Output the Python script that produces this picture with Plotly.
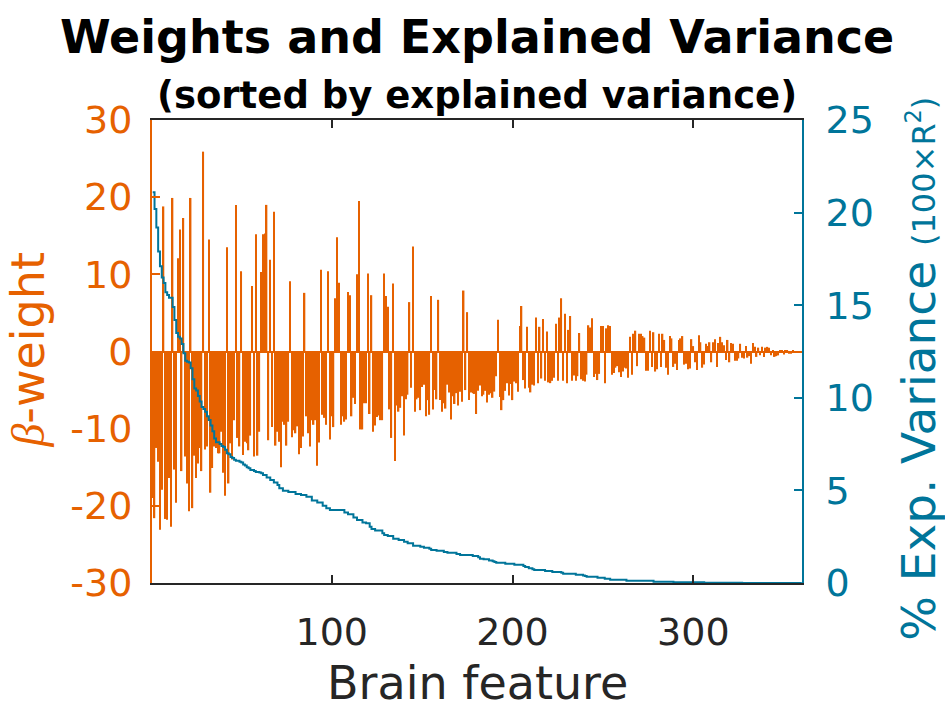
import plotly.graph_objects as go

# ---------------- data ----------------
features = list(range(1, 361))

beta_weights = [
    -19.0, -21.6, -12.5, -14.3, -23.1, -17.9, 18.8, -21.7, -21.8, -16.4,
    -22.7, 19.9, -15.3, -19.6, 12.1, 15.8, -15.5, 17.3, -13.6, -17.1,
    -20.7, 19.9, -20.3, -13.5, -16.4, -14.5, -12.5, -15.5, 25.9, -12.7,
    -12.3, 14.5, -18.3, -15.1, -12.3, -12.5, -13.2, -13.2, -10.4, -15.7,
    -18.7, 13.5, -17.1, -11.9, -14.0, -8.9, 19.0, -11.2, -12.3, 10.4,
    -13.4, -11.7, -11.9, -12.8, -10.9, 8.5, -13.6, 15.2, -13.5, -10.4,
    10.3, 15.2, 15.3, 19.0, -11.5, 11.9, -9.8, 18.1, -12.2, -10.4,
    -11.7, -15.0, -9.1, -9.5, -12.2, -9.1, 9.1, -11.1, -10.2, -10.6,
    -9.7, -13.3, -12.5, -11.0, 7.6, -8.4, -10.6, -12.3, -8.9, -9.5,
    -8.9, -14.8, -11.8, 10.6, -8.2, -8.6, -9.5, 10.4, -11.4, -8.4,
    -9.8, 6.9, 14.8, 8.9, -9.5, -8.4, -9.1, -8.8, 7.7, 7.3,
    -8.4, -6.0, -6.8, 10.0, 19.5, -10.1, -10.1, -6.7, -6.7, 10.1,
    -8.1, 7.3, -10.4, -9.6, -8.5, -8.3, -8.9, -8.9, 10.1, 7.2,
    5.8, -7.5, -11.2, 8.8, -14.2, -7.0, -7.8, -7.3, -5.8, -10.9,
    -6.2, -5.6, 6.4, -4.7, 13.6, -7.8, -6.2, -6.0, -7.6, -4.6,
    -4.3, -8.4, -6.3, -8.2, 7.2, -7.5, -5.0, -6.2, 6.7, -6.3,
    -7.8, -6.7, -7.4, -4.3, -5.3, -8.8, -5.8, -6.8, -5.4, -7.0,
    -5.2, -6.5, 7.9, -5.0, 5.1, -6.3, -5.3, -5.4, -5.5, -8.1,
    -5.1, -4.4, -5.8, -5.6, -5.1, -6.6, -5.6, -5.4, -6.0, -5.2,
    -3.2, 4.1, -5.9, -7.6, -6.3, -5.1, -4.1, -5.7, -4.2, -6.3,
    -3.9, -4.1, -5.2, 3.3, 5.9, -3.7, -4.8, 3.2, -4.7, -5.3,
    -4.3, -4.4, 4.4, -4.1, 3.2, -3.5, 4.2, -3.8, 2.6, -4.0,
    -4.1, -3.8, -3.4, 3.6, -3.8, 4.4, 6.9, -3.8, 4.9, -4.1,
    2.8, 4.6, -3.8, -3.1, -3.8, -3.2, 2.4, -3.6, -3.8, -3.9,
    -3.0, 3.4, 3.1, 4.3, -3.3, -2.9, -3.7, -2.9, 3.3, 3.3,
    -4.1, 3.0, 3.4, 3.3, -3.0, -2.8, -2.1, -1.9, -2.7, -3.3,
    -2.6, -2.1, -2.2, -3.4, 1.9, -3.0, 2.3, 2.7, -1.9, 2.3,
    2.3, 2.0, 1.8, -2.5, -2.5, 2.7, -2.0, 2.5, -2.6, -2.3,
    2.3, -2.0, 2.3, 1.5, -2.1, -3.0, 2.0, 1.7, -2.0, -1.6,
    -2.4, 1.5, 1.7, 2.0, -1.7, -1.6, -2.3, -2.2, 1.6, 0.7,
    -1.4, -2.4, 2.1, 1.2, -2.1, -1.7, 1.0, 0.7, 1.2, -1.4,
    1.2, 1.6, -2.0, 1.1, 1.9, 1.2, 0.8, -1.1, 1.5, -1.4,
    1.1, 1.0, -1.2, -1.2, -0.9, 1.0, -0.8, -0.9, 0.7, -0.8,
    -0.6, -1.6, 1.1, 0.6, -0.7, 0.5, -0.5, 0.6, -0.7, 0.5,
    0.6, 0.5, -0.5, 0.2, -0.7, -0.6, -0.5, 0.2, 0.2, -0.4,
    0.1, 0.1, -0.3, -0.3, 0.1, -0.1, 0.05, -0.05, 0.03, -0.02,
]

exp_variance = [
    21.1, 20.2, 19.2, 17.9, 17.1, 16.5, 16.2, 15.7, 15.55, 15.4,
    15.4, 14.9, 14.2, 13.5, 13.3, 13.2, 12.9, 12.4, 12.0, 11.95,
    11.9, 11.6, 11.0, 10.5, 10.4, 10.1, 9.8, 9.5, 9.4, 9.25,
    9.0, 8.8, 8.5, 8.2, 7.8, 7.6, 7.6, 7.5, 7.4, 7.35,
    7.2, 7.0, 6.95, 6.8, 6.75, 6.65, 6.6, 6.6, 6.55, 6.5,
    6.4, 6.35, 6.25, 6.2, 6.1, 6.1, 6.05, 6.0, 6.0, 5.96,
    5.92, 5.83, 5.83, 5.69, 5.69, 5.56, 5.56, 5.42, 5.42, 5.29,
    5.11, 5.11, 4.98, 4.98, 4.98, 4.91, 4.91, 4.91, 4.91, 4.81,
    4.81, 4.81, 4.75, 4.75, 4.75, 4.66, 4.66, 4.66, 4.45, 4.45,
    4.45, 4.34, 4.34, 4.34, 4.17, 4.17, 4.03, 4.03, 3.94, 3.94,
    3.94, 3.94, 3.94, 3.94, 3.94, 3.94, 3.8, 3.8, 3.71, 3.71,
    3.71, 3.53, 3.53, 3.4, 3.4, 3.4, 3.26, 3.26, 3.22, 3.22,
    3.04, 2.92, 2.92, 2.83, 2.83, 2.83, 2.83, 2.68, 2.59, 2.59,
    2.54, 2.54, 2.54, 2.39, 2.39, 2.39, 2.32, 2.32, 2.32, 2.23,
    2.23, 2.14, 2.14, 2.14, 2.01, 2.01, 2.01, 2.01, 1.96, 1.96,
    1.91, 1.91, 1.91, 1.85, 1.78, 1.78, 1.78, 1.74, 1.74, 1.74,
    1.74, 1.67, 1.67, 1.64, 1.64, 1.64, 1.64, 1.64, 1.57, 1.57,
    1.51, 1.51, 1.51, 1.51, 1.51, 1.51, 1.51, 1.46, 1.46, 1.46,
    1.39, 1.31, 1.31, 1.28, 1.28, 1.28, 1.22, 1.22, 1.17, 1.13,
    1.10, 1.10, 1.10, 1.10, 1.10, 1.04, 1.04, 1.04, 1.04, 1.04,
    0.99, 0.99, 0.99, 0.99, 0.99, 0.92, 0.86, 0.86, 0.79, 0.79,
    0.74, 0.70, 0.70, 0.70, 0.70, 0.70, 0.70, 0.65, 0.65, 0.65,
    0.65, 0.59, 0.59, 0.59, 0.59, 0.59, 0.56, 0.50, 0.50, 0.50,
    0.50, 0.50, 0.50, 0.50, 0.45, 0.45, 0.45, 0.45, 0.40, 0.38,
    0.34, 0.34, 0.34, 0.34, 0.34, 0.34, 0.29, 0.29, 0.29, 0.29,
    0.23, 0.23, 0.23, 0.18, 0.18, 0.18, 0.18, 0.18, 0.18, 0.18,
    0.18, 0.18, 0.12, 0.12, 0.12, 0.12, 0.12, 0.12, 0.12, 0.12,
    0.12, 0.12, 0.12, 0.12, 0.12, 0.12, 0.12, 0.07, 0.07, 0.07,
    0.07, 0.07, 0.07, 0.07, 0.07, 0.07, 0.07, 0.07, 0.04, 0.04,
    0.04, 0.04, 0.04, 0.04, 0.04, 0.04, 0.04, 0.04, 0.04, 0.04,
    0.04, 0.04, 0.04, 0.04, 0.04, 0.02, 0.02, 0.02, 0.02, 0.02,
    0.02, 0.02, 0.02, 0.02, 0.02, 0.02, 0.02, 0.02, 0.02, 0.02,
    0.02, 0.02, 0.02, 0.02, 0.02, 0.02, 0.0, 0.0, 0.0, 0.0,
    0.0, 0.0, 0.0, 0.0, 0.0, 0.0, 0.0, 0.0, 0.0, 0.0,
    0.0, 0.0, 0.0, 0.0, 0.0, 0.0, 0.0, 0.0, 0.0, 0.0,
    0.0, 0.0, 0.0, 0.0, 0.0, 0.0, 0.0, 0.0, 0.0, 0.0,
]

x_ticks = [100, 200, 300]
x_ticklabels = ["100", "200", "300"]
y_ticks = [-30, -20, -10, 0, 10, 20, 30]
y_ticklabels = ["-30", "-20", "-10", "0", "10", "20", "30"]
y2_ticks = [0, 5, 10, 15, 20, 25]
y2_ticklabels = ["0", "5", "10", "15", "20", "25"]

title_text = "Weights and Explained Variance"
subtitle_text = "(sorted by explained variance)"
x_title = "Brain feature"

# ---------------- styling ----------------
ORANGE = "#E66100"
TEAL = "#00759A"
DARK = "#262626"
FONT = "DejaVu Sans"

fig = go.Figure()
fig.add_trace(go.Bar(
    x=features, y=beta_weights, width=0.8,
    marker=dict(color=ORANGE, line=dict(width=0)),
    yaxis="y", showlegend=False, hoverinfo="x+y",
))
fig.add_trace(go.Scatter(
    x=features, y=exp_variance, mode="lines",
    line=dict(color=TEAL, width=2, shape="hv"),
    yaxis="y2", showlegend=False,
))

fig.update_layout(
    width=945, height=709,
    margin=dict(l=152, r=143, t=120, b=126, pad=0),
    paper_bgcolor="white", plot_bgcolor="white",
    showlegend=False,
    font=dict(family=FONT, size=38, color=DARK),
    xaxis=dict(
        range=[0.6, 360.1], tickvals=x_ticks, ticktext=x_ticklabels,
        ticks="inside", ticklen=8, tickwidth=2, tickcolor=DARK,
        showline=True, linecolor=DARK, linewidth=2, mirror="ticks",
        showgrid=False, zeroline=False,
        tickfont=dict(family=FONT, size=38, color=DARK),
        ticklabelstandoff=14,
    ),
    yaxis=dict(
        range=[-30, 30], tickvals=y_ticks, ticktext=y_ticklabels,
        ticks="inside", ticklen=8, tickwidth=2, tickcolor=ORANGE,
        showline=True, linecolor=ORANGE, linewidth=2,
        showgrid=False, zeroline=True, zerolinecolor=ORANGE, zerolinewidth=2,
        tickfont=dict(family=FONT, size=38, color=ORANGE),
        ticklabelstandoff=10,
    ),
    yaxis2=dict(
        range=[0, 25], tickvals=y2_ticks, ticktext=y2_ticklabels,
        overlaying="y", side="right",
        ticks="inside", ticklen=8, tickwidth=2, tickcolor=TEAL,
        showline=True, linecolor=TEAL, linewidth=2,
        showgrid=False, zeroline=False,
        tickfont=dict(family=FONT, size=38, color=TEAL),
        ticklabelstandoff=14,
    ),
    annotations=[
        dict(text="<b>" + title_text + "</b>", xref="paper", yref="paper",
             x=0.5, y=1.179, xanchor="center", yanchor="middle", showarrow=False,
             font=dict(family=FONT, size=46, color="black")),
        dict(text="<b>" + subtitle_text + "</b>", xref="paper", yref="paper",
             x=0.5, y=1.052, xanchor="center", yanchor="middle", showarrow=False,
             font=dict(family=FONT, size=37, color="black")),
        dict(text=x_title, xref="paper", yref="paper",
             x=0.5, y=-0.216, xanchor="center", yanchor="middle", showarrow=False,
             font=dict(family=FONT, size=46, color=DARK)),
        dict(text="<span style='font-family:Liberation Serif'><i>β</i></span>-weight",
             xref="paper", yref="paper", textangle=-90,
             x=-0.19, y=0.503, xanchor="center", yanchor="middle", showarrow=False,
             font=dict(family=FONT, size=46, color=ORANGE)),
        dict(text="% Exp. Variance <span style='font-size:32px'>(100×R<sup>2</sup>)</span>",
             xref="paper", yref="paper", textangle=-90,
             x=1.178, y=0.462, xanchor="center", yanchor="middle", showarrow=False,
             font=dict(family=FONT, size=47, color=TEAL)),
    ],
)

fig.write_html("out.html")
